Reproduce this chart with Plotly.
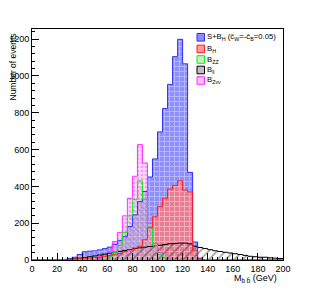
import plotly.graph_objects as go

# 4 GeV bins from 0 to 200
bin_edges = list(range(0, 204, 4))

# S+B_H
sbh = [0,0,0,0,0,0,3,8,15,30,45,48,50,55,62,70,85,105,127,182,245,318,372,451,549,
       696,823,954,1105,1199,1066,476,98,10,0,0,0,0,0,0,0,0,0,0,0,0,0,0,0,0]
# B_H
bh = [0,0,0,0,0,0,2,4,6,8,10,12,14,16,20,24,28,35,45,55,65,75,110,175,235,
      290,335,385,405,430,380,370,50,5,0,0,0,0,0,0,0,0,0,0,0,0,0,0,0,0]
# B_ZZ
bzz = [0,0,0,0,0,0,0,0,0,0,0,0,0,2,5,20,40,80,150,240,330,430,330,180,80,
       30,10,3,0,0,0,0,0,0,0,0,0,0,0,0,0,0,0,0,0,0,0,0,0,0]
# B_ll
bll = [0,0,0,0,0,0,0,3,6,10,14,18,22,27,32,37,42,47,52,57,62,66,70,74,78,
       80,84,88,90,92,92,88,75,68,62,56,50,46,42,38,34,30,25,20,18,15,15,12,10,8]
# B_Zvv
bzvv = [0,0,0,0,0,0,0,0,0,0,0,0,0,10,20,45,100,150,240,335,455,627,527,200,90,
        40,15,5,0,0,0,0,0,0,0,0,0,0,0,0,0,0,0,0,0,0,0,0,0,0]

legend_labels = [
    "S+B<sub>H</sub> (c̄<sub>W</sub>=-c̄<sub>B</sub>=0.05)",
    "B<sub>H</sub>",
    "B<sub>ZZ</sub>",
    "B<sub>ll</sub>",
    "B<sub>Zνν</sub>",
]

x_ticks = list(range(0, 220, 20))
y_ticks = list(range(0, 1400, 200))

centers = [(bin_edges[i] + bin_edges[i + 1]) / 2 for i in range(len(bin_edges) - 1)]

series = [
    (sbh, "#3030ff", "#8c8cff",
     dict(shape="+", fgcolor="rgba(255,255,255,0.85)", bgcolor="rgba(115,115,250,0.8)", size=5, solidity=0.3)),
    (bh, "#ff2020", "#ff9a9a",
     dict(shape="+", fgcolor="rgba(255,255,255,0.8)", bgcolor="rgba(255,120,120,0.78)", size=5, solidity=0.3)),
    (bzz, "#20e020", "#c4f0c4",
     dict(shape="\\", fgcolor="#30d030", bgcolor="rgba(255,255,255,0)", size=4, solidity=0.3)),
    (bll, "#000000", "#c0c0c0",
     dict(shape="/", fgcolor="#303030", bgcolor="rgba(255,255,255,0)", size=6, solidity=0.25)),
    (bzvv, "#ff30ff", "#ffc0ff",
     dict(shape=".", fgcolor="#ff50ff", bgcolor="rgba(255,180,255,0.5)", size=4, solidity=0.35)),
]

fig = go.Figure()
draw_order = [0, 1, 4, 2, 3]
for idx in draw_order:
    vals, col, _, pat = series[idx]
    fig.add_trace(go.Bar(
        x=centers, y=vals, width=4, showlegend=False,
        marker=dict(color=col, pattern=pat, line=dict(width=0)),
    ))
for idx in [3, 0, 4, 2, 1]:
    vals, col, _, _ = series[idx]
    fig.add_trace(go.Scatter(
        x=bin_edges, y=vals + [vals[-1]], mode="lines",
        line=dict(color=col, width=1, shape="hv"),
        showlegend=False, hoverinfo="skip",
    ))

# page body has an 8px margin; figure is sized so the plot box lands at
# page x 32..283, y 29..260
W, H = 307, 281
L, T = 24, 21
PW, PH = 251, 231
R, B = W - L - PW, H - T - PH
PAGE_L, PAGE_B = 32, 260


def px(xp):
    return (xp - PAGE_L) / PW


def py(yp):
    return (PAGE_B - yp) / PH


shapes = []
annotations = []
row_y = [37.3, 48.9, 59.5, 70.0, 80.5]
for i, label in enumerate(legend_labels):
    _, col, fill, _ = series[i]
    yc = row_y[i]
    shapes.append(dict(type="rect", xref="paper", yref="paper",
                       x0=px(197), x1=px(204.5), y0=py(yc + 3.8), y1=py(yc - 3.8),
                       fillcolor=fill, line=dict(color=col, width=1)))
    annotations.append(dict(text=label, xref="paper", yref="paper",
                            x=px(205), y=py(yc), xanchor="left", yanchor="middle",
                            showarrow=False, font=dict(size=7.7)))

annotations.append(dict(text="Number of events", textangle=-90, xref="paper", yref="paper",
                        x=px(12), y=py(32), xanchor="center", yanchor="top",
                        showarrow=False, font=dict(size=8.5)))
annotations.append(dict(text="M<sub>b b̄</sub> (GeV)", xref="paper", yref="paper",
                        x=px(279), y=py(278), xanchor="right", yanchor="middle",
                        showarrow=False, font=dict(size=9)))

fig.update_layout(
    width=W, height=H,
    margin=dict(l=L, r=R, t=T, b=B),
    paper_bgcolor="white", plot_bgcolor="white",
    barmode="overlay", bargap=0,
    font=dict(family="Liberation Sans, Arial, sans-serif", size=9, color="black"),
    showlegend=False,
    shapes=shapes, annotations=annotations,
)
fig.update_xaxes(
    range=[0, 200], tickvals=x_ticks, ticks="inside", ticklen=7, tickcolor="black",
    showline=True, linecolor="black", linewidth=1, mirror=True, showgrid=False,
    zeroline=False, minor=dict(dtick=4, ticks="inside", ticklen=3, tickcolor="black"),
    tickfont=dict(size=9), automargin=False,
)
fig.update_yaxes(
    range=[0, 1255], tickvals=y_ticks, ticks="inside", ticklen=7, tickcolor="black",
    showline=True, linecolor="black", linewidth=1, mirror=True, showgrid=False,
    zeroline=False, minor=dict(dtick=40, ticks="inside", ticklen=3, tickcolor="black"),
    tickfont=dict(size=9), automargin=False,
)

fig.write_html("out.html")
